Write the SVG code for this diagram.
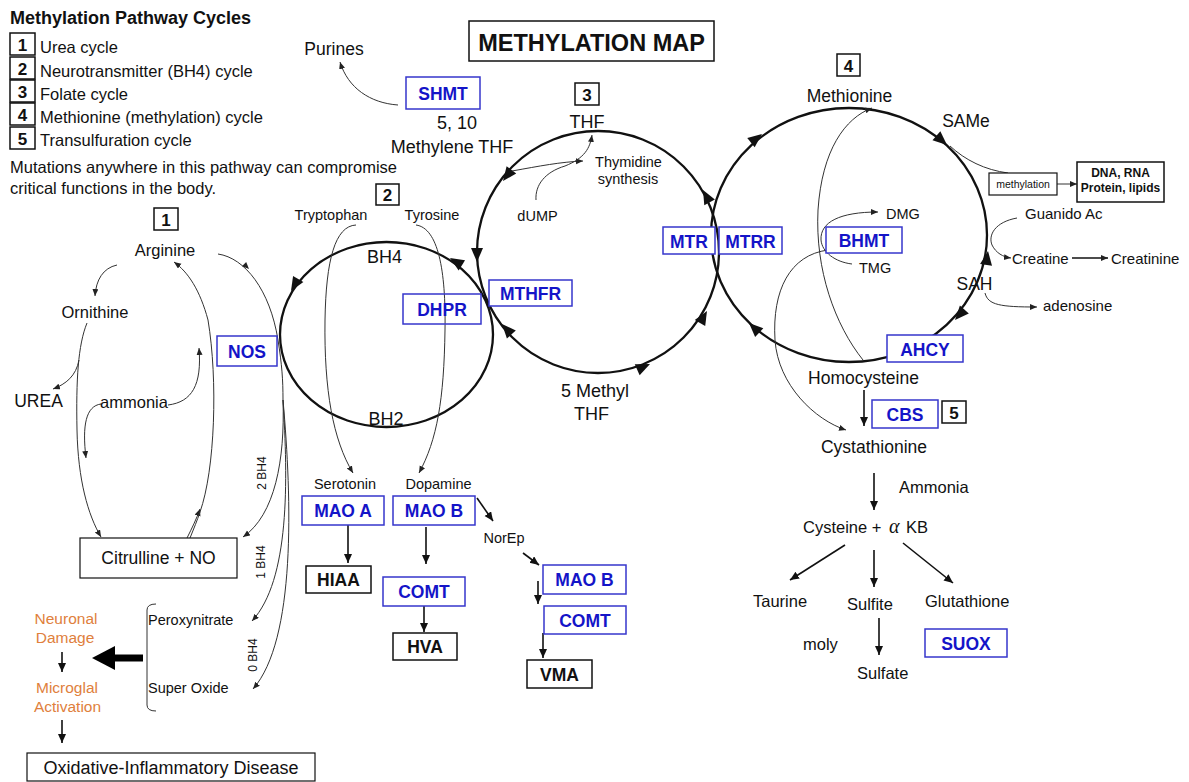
<svg xmlns="http://www.w3.org/2000/svg" xmlns:xlink="http://www.w3.org/1999/xlink" width="1189" height="782" viewBox="0 0 1189 782">
<style>
text{font-family:"Liberation Sans",Arial,sans-serif;fill:#111}
.s14{font-size:14.5px}
.s16{font-size:16.5px}
.s17{font-size:17.5px}
.s18{font-size:18px}
.c{text-anchor:middle}
.en{font-size:17.5px;font-weight:bold;fill:#1414c8;text-anchor:middle}
.bk{font-size:17.5px;font-weight:bold;text-anchor:middle}
.num{font-size:17px;font-weight:bold;text-anchor:middle}
.or{fill:#e0803c;font-size:15.5px;text-anchor:middle}
.rot{font-size:12px;text-anchor:middle}
.eb{fill:#fff;stroke:#3636cc;stroke-width:1.5}
.ebn{fill:none;stroke:#3636cc;stroke-width:1.5}
.kb{fill:#fff;stroke:#111;stroke-width:1.5}
.cyc{fill:none;stroke:#111;stroke-width:2.3}
.thin{fill:none;stroke:#333;stroke-width:1}
.med{fill:none;stroke:#111;stroke-width:1.6}
</style>
<defs>
<marker id="sa" markerWidth="8" markerHeight="8" refX="7" refY="3" orient="auto" markerUnits="userSpaceOnUse"><path d="M0,0 L7,3 L0,6 Z" fill="#222"/></marker>
<marker id="ma" markerWidth="10" markerHeight="10" refX="9" refY="4" orient="auto" markerUnits="userSpaceOnUse"><path d="M0,0 L9,4 L0,8 Z" fill="#111"/></marker>
<path id="ah" d="M0,0 L-14,-6 L-14,6 Z" fill="#111"/>
<path id="sah" d="M0,0 L-7,-3 L-7,3 Z" fill="#222"/>
</defs>

<!-- Legend -->
<g id="legend">
<text x="10" y="24" style="font-size:18px;font-weight:bold">Methylation Pathway Cycles</text>
<rect x="10" y="33" width="25" height="22" class="kb"/><text x="22.5" y="51" class="num">1</text>
<text x="40" y="53" class="s16">Urea cycle</text>
<rect x="10" y="57" width="25" height="22" class="kb"/><text x="22.5" y="75" class="num">2</text>
<text x="40" y="77" class="s16">Neurotransmitter (BH4) cycle</text>
<rect x="10" y="80" width="25" height="22" class="kb"/><text x="22.5" y="98" class="num">3</text>
<text x="40" y="100" class="s16">Folate cycle</text>
<rect x="10" y="103" width="25" height="22" class="kb"/><text x="22.5" y="121" class="num">4</text>
<text x="40" y="123" class="s16">Methionine (methylation) cycle</text>
<rect x="10" y="127" width="25" height="22" class="kb"/><text x="22.5" y="145" class="num">5</text>
<text x="40" y="146" class="s16">Transulfuration cycle</text>
<text x="10" y="173" class="s16">Mutations anywhere in this pathway can compromise</text>
<text x="10" y="194" class="s16">critical functions in the body.</text>
</g>

<g id="title">
<rect x="469" y="21" width="245" height="40" fill="#fff" stroke="#111" stroke-width="1.5"/>
<text x="591.5" y="51" class="c" style="font-size:23.5px;font-weight:bold">METHYLATION MAP</text>
</g>

<!-- Cycles -->
<g id="cycles">
<ellipse cx="386.5" cy="334.5" rx="106.5" ry="92.5" class="cyc"/>
<circle cx="598" cy="252" r="121" class="cyc"/>
<ellipse cx="849" cy="235" rx="138" ry="127" class="cyc"/>
<use href="#ah" transform="translate(291,291) rotate(121)"/>
<use href="#ah" transform="translate(450,258) rotate(212)"/>
<use href="#ah" transform="translate(503,181) rotate(127)"/>
<use href="#ah" transform="translate(477,262) rotate(90)"/>
<use href="#ah" transform="translate(502,324) rotate(228)"/>
<use href="#ah" transform="translate(650,364) rotate(-24)"/>
<use href="#ah" transform="translate(707,311) rotate(-60)"/>
<use href="#ah" transform="translate(703,190) rotate(-118)"/>
<use href="#ah" transform="translate(762,134) rotate(-38)"/>
<use href="#ah" transform="translate(947,145) rotate(41)"/>
<use href="#ah" transform="translate(988,251) rotate(-82)"/>
<use href="#ah" transform="translate(955,320) rotate(132)"/>
<use href="#ah" transform="translate(749,323) rotate(223)"/>
</g>

<!-- Connectors -->
<g id="connectors">
<!-- urea -->
<path d="M117,265 C103,268 96,280 95,296" class="thin" marker-end="url(#sa)"/>
<path d="M87,323 C78,345 76,380 77,430 C78,480 88,515 101,537" class="thin" marker-end="url(#sa)"/>
<path d="M79,360 C76,376 66,384 53,389" class="thin" marker-end="url(#sa)"/>
<path d="M168,405 C192,402 202,385 199,348" class="thin" marker-end="url(#sa)"/>
<path d="M101,404 C86,406 82,425 86,458" class="thin" marker-end="url(#sa)"/>
<path d="M187,538 C192,528 196,520 200,509" class="thin" marker-end="url(#sa)"/>
<path d="M190,538 C194,528 197,521 200,512 C215,470 218,380 208,320 C200,290 188,272 174,262" class="thin" marker-end="url(#sa)"/>
<path d="M218,254 C245,258 270,290 278,340 C282,365 283,380 283,400" class="thin"/>
<use href="#sah" transform="translate(249,269) rotate(45)"/>
<path d="M283,400 C285,460 275,515 243,537" class="thin" marker-end="url(#sa)"/>
<path d="M283,400 C288,480 290,580 252,621" class="thin" marker-end="url(#sa)"/>
<path d="M283,400 C292,500 296,640 253,689" class="thin" marker-end="url(#sa)"/>
<path d="M156,604 Q147,604 147,610 L147,705 Q147,711 156,711" class="thin" stroke="#666"/>
<line x1="143" y1="658" x2="112" y2="658" stroke="#000" stroke-width="7"/>
<polygon points="92,658 115,646 115,670" fill="#000"/>
<line x1="62" y1="652" x2="62" y2="672" class="med" marker-end="url(#ma)"/>
<line x1="62" y1="720" x2="62" y2="743" class="med" marker-end="url(#ma)"/>
<!-- neurotransmitter -->
<path d="M356,225 C335,226 326,260 325,320 C324,390 333,440 353,473" class="thin" marker-end="url(#sa)"/>
<path d="M416,225 C438,228 446,270 445,330 C444,400 437,440 419,473" class="thin" marker-end="url(#sa)"/>
<line x1="348" y1="525" x2="348" y2="563" class="med" marker-end="url(#ma)"/>
<line x1="426" y1="527" x2="426" y2="564" class="med" marker-end="url(#ma)"/>
<line x1="424" y1="606" x2="424" y2="632" class="med" marker-end="url(#ma)"/>
<line x1="477" y1="498" x2="493" y2="521" class="med" marker-end="url(#ma)"/>
<line x1="523" y1="553" x2="539" y2="565" class="med" marker-end="url(#ma)"/>
<line x1="538" y1="581" x2="538" y2="604" class="med" marker-end="url(#ma)"/>
<line x1="543" y1="633" x2="543" y2="658" class="med" marker-end="url(#ma)"/>
<!-- folate -->
<path d="M398,105 C370,103 348,88 340,62" class="thin" marker-end="url(#sa)"/>
<path d="M512,171 C540,166 560,162 583,161" class="thin" marker-end="url(#sa)"/>
<path d="M536,200 C535,185 545,172 565,166 C585,158 590,148 592,135" class="thin" marker-end="url(#sa)"/>
<!-- methionine -->
<path d="M950,146 C965,160 985,170 1008,173" class="thin"/>
<line x1="1057" y1="184" x2="1077" y2="184" class="thin" marker-end="url(#sa)"/>
<path d="M852,264 C835,262 822,252 821,240 C820,222 840,212 878,212" class="thin" marker-end="url(#sa)"/>
<path d="M863,360 C835,325 815,270 818,210 C822,150 845,118 872,108" class="thin" marker-end="url(#sa)"/>
<path d="M828,250 C790,255 772,290 775,340 C778,385 815,420 846,430" class="thin" marker-end="url(#sa)"/>
<path d="M1017,218 C995,222 988,235 992,245 C996,253 1003,257 1011,258" class="thin" marker-end="url(#sa)"/>
<line x1="1072" y1="258" x2="1108" y2="258" class="med" marker-end="url(#sa)"/>
<path d="M985,293 C988,305 1000,307 1037,307" class="thin" marker-end="url(#sa)"/>
<!-- transulfuration -->
<line x1="864" y1="390" x2="864" y2="426" class="med" marker-end="url(#ma)"/>
<line x1="874" y1="473" x2="874" y2="510" class="med" marker-end="url(#ma)"/>
<line x1="845" y1="545" x2="790" y2="580" class="med" marker-end="url(#ma)"/>
<line x1="874" y1="550" x2="874" y2="587" class="med" marker-end="url(#ma)"/>
<line x1="903" y1="543" x2="953" y2="583" class="med" marker-end="url(#ma)"/>
<line x1="879" y1="618" x2="879" y2="655" class="med" marker-end="url(#ma)"/>
</g>

<!-- Urea cycle nodes -->
<g id="n-urea-num"><rect x="154" y="208" width="24" height="22" class="kb"/><text x="166" y="226" class="num">1</text></g>
<g id="n-arginine"><text x="165" y="256" class="s16 c">Arginine</text></g>
<g id="n-ornithine"><text x="95" y="318" class="s16 c">Ornithine</text></g>
<g id="n-urea"><text x="38.5" y="407" class="s17 c">UREA</text></g>
<g id="n-ammonia"><text x="134" y="408" class="s16 c">ammonia</text></g>
<g id="n-nos"><rect x="217" y="336" width="60" height="30" class="eb"/><text x="247" y="358" class="en">NOS</text></g>
<g id="n-bh4labels">
<text transform="translate(262,473) rotate(-90)" x="0" y="4" class="rot">2 BH4</text>
<text transform="translate(261,562) rotate(-90)" x="0" y="4" class="rot">1 BH4</text>
<text transform="translate(253,655) rotate(-90)" x="0" y="4" class="rot">0 BH4</text>
</g>
<g id="n-citrulline"><rect x="80" y="538" width="157" height="40" fill="#fff" stroke="#111" stroke-width="1.2"/><text x="158.5" y="564" class="s17 c">Citrulline + NO</text></g>
<g id="n-peroxynitrate"><text x="148" y="625" class="s14">Peroxynitrate</text></g>
<g id="n-superoxide"><text x="148" y="693" class="s14">Super Oxide</text></g>
<g id="n-neuronal"><text x="66" y="624" class="or">Neuronal</text><text x="65" y="643" class="or">Damage</text></g>
<g id="n-microglal"><text x="67" y="693" class="or">Microglal</text><text x="67.5" y="712" class="or">Activation</text></g>
<g id="n-oxidative"><rect x="27" y="753" width="288" height="28" fill="#fff" stroke="#111" stroke-width="1.2"/><text x="171" y="774" class="s18 c">Oxidative-Inflammatory Disease</text></g>

<!-- Neurotransmitter cycle -->
<g id="n-nt-num"><rect x="376" y="184" width="23" height="21" class="kb"/><text x="387.5" y="201" class="num">2</text></g>
<g id="n-tryptophan"><text x="331" y="220" class="s14 c">Tryptophan</text></g>
<g id="n-tyrosine"><text x="432" y="220" class="s14 c">Tyrosine</text></g>
<g id="n-bh4"><text x="384.5" y="263" class="s18 c">BH4</text></g>
<g id="n-bh2"><text x="386" y="425" class="s18 c">BH2</text></g>
<g id="n-dhpr"><rect x="403" y="294" width="78" height="30" class="ebn"/><text x="442" y="316" class="en">DHPR</text></g>
<g id="n-serotonin"><text x="345" y="489" class="s14 c">Serotonin</text></g>
<g id="n-dopamine"><text x="438.5" y="489" class="s14 c">Dopamine</text></g>
<g id="n-maoa"><rect x="302" y="496" width="82" height="29" class="eb"/><text x="343" y="517" class="en">MAO A</text></g>
<g id="n-maob"><rect x="393" y="496" width="82" height="29" class="eb"/><text x="434" y="517" class="en">MAO B</text></g>
<g id="n-hiaa"><rect x="306" y="566" width="65" height="27" class="kb"/><text x="338.5" y="586" class="bk">HIAA</text></g>
<g id="n-comt"><rect x="383" y="577" width="82" height="29" class="eb"/><text x="424" y="598" class="en">COMT</text></g>
<g id="n-hva"><rect x="393" y="633" width="64" height="27" class="kb"/><text x="425" y="653" class="bk">HVA</text></g>
<g id="n-norep"><text x="504" y="543" class="s14 c">NorEp</text></g>
<g id="n-maob2"><rect x="543" y="565" width="83" height="29" class="eb"/><text x="584.5" y="586" class="en">MAO B</text></g>
<g id="n-comt2"><rect x="544" y="606" width="82" height="28" class="eb"/><text x="585" y="627" class="en">COMT</text></g>
<g id="n-vma"><rect x="527" y="660" width="65" height="28" class="kb"/><text x="559.5" y="681" class="bk">VMA</text></g>

<!-- Folate cycle -->
<g id="n-purines"><text x="334" y="55" class="s17 c">Purines</text></g>
<g id="n-shmt"><rect x="406" y="77" width="74" height="32" class="eb"/><text x="443" y="100" class="en">SHMT</text></g>
<g id="n-methylenethf"><text x="457" y="129" class="s18 c">5, 10</text><text x="452" y="153" class="s18 c">Methylene THF</text></g>
<g id="n-folate-num"><rect x="575" y="83" width="24" height="22" class="kb"/><text x="587" y="101" class="num">3</text></g>
<g id="n-thf"><text x="587" y="128" class="s18 c">THF</text></g>
<g id="n-thymidine"><text x="628.5" y="167" class="s14 c">Thymidine</text><text x="628" y="184" class="s14 c">synthesis</text></g>
<g id="n-dump"><text x="537.5" y="221" class="s14 c">dUMP</text></g>
<g id="n-mthfr"><rect x="489" y="280" width="83" height="26" class="eb"/><text x="530.5" y="300" class="en">MTHFR</text></g>
<g id="n-5methylthf"><text x="595" y="397" class="s18 c">5 Methyl</text><text x="591.5" y="420" class="s18 c">THF</text></g>
<g id="n-mtr"><rect x="663" y="227" width="52" height="27" class="eb"/><text x="689" y="248" class="en">MTR</text></g>
<g id="n-mtrr"><rect x="719" y="227" width="63" height="27" class="eb"/><text x="750.5" y="248" class="en">MTRR</text></g>

<!-- Methionine cycle -->
<g id="n-meth-num"><rect x="837" y="54" width="23" height="22" class="kb"/><text x="848.5" y="72" class="num">4</text></g>
<g id="n-methionine"><text x="849.5" y="102" class="s17 c">Methionine</text></g>
<g id="n-same"><text x="966" y="127" class="s17 c">SAMe</text></g>
<g id="n-methylation"><rect x="989" y="173" width="68" height="22" fill="#fff" stroke="#111" stroke-width="1.2"/><text x="1023" y="188" class="c" style="font-size:10.5px">methylation</text></g>
<g id="n-dna"><rect x="1077" y="162" width="87" height="40" class="kb"/><text x="1120.5" y="177" class="c" style="font-size:12px;font-weight:bold">DNA, RNA</text><text x="1120.5" y="192" class="c" style="font-size:12px;font-weight:bold">Protein, lipids</text></g>
<g id="n-dmg"><text x="886" y="219" class="s14">DMG</text></g>
<g id="n-bhmt"><rect x="826" y="227" width="76" height="26" class="eb"/><text x="864" y="247" class="en">BHMT</text></g>
<g id="n-tmg"><text x="859" y="273" class="s14">TMG</text></g>
<g id="n-guanido"><text x="1025" y="219" style="font-size:15px">Guanido Ac</text></g>
<g id="n-creatine"><text x="1012" y="264" style="font-size:15px">Creatine</text></g>
<g id="n-creatinine"><text x="1111" y="264" style="font-size:15px">Creatinine</text></g>
<g id="n-sah"><text x="974.5" y="290" class="s17 c">SAH</text></g>
<g id="n-adenosine"><text x="1043" y="311" style="font-size:15px">adenosine</text></g>
<g id="n-ahcy"><rect x="887" y="335" width="76" height="27" class="eb"/><text x="925" y="356" class="en">AHCY</text></g>
<g id="n-homocysteine"><text x="863.5" y="384" class="s17 c">Homocysteine</text></g>

<!-- Transulfuration -->
<g id="n-cbs"><rect x="872" y="400" width="66" height="28" class="eb"/><text x="905" y="421" class="en">CBS</text></g>
<g id="n-trans-num"><rect x="942" y="401" width="24" height="22" class="kb"/><text x="954" y="419" class="num">5</text></g>
<g id="n-cystathionine"><text x="874" y="453" class="s17 c">Cystathionine</text></g>
<g id="n-ammonia2"><text x="899" y="493" class="s16">Ammonia</text></g>
<g id="n-cysteine"><text y="533" class="s16"><tspan x="803">Cysteine +</tspan><tspan x="889" style="font-family:'Liberation Serif','Times New Roman',serif;font-style:italic;font-size:20px">α</tspan><tspan x="906">KB</tspan></text></g>
<g id="n-taurine"><text x="753" y="607" class="s16">Taurine</text></g>
<g id="n-sulfite"><text x="847" y="610" class="s16">Sulfite</text></g>
<g id="n-glutathione"><text x="925" y="607" class="s16">Glutathione</text></g>
<g id="n-moly"><text x="803" y="650" class="s16">moly</text></g>
<g id="n-sulfate"><text x="857" y="679" class="s16">Sulfate</text></g>
<g id="n-suox"><rect x="925" y="629" width="82" height="28" class="eb"/><text x="966" y="650" class="en">SUOX</text></g>
</svg>
